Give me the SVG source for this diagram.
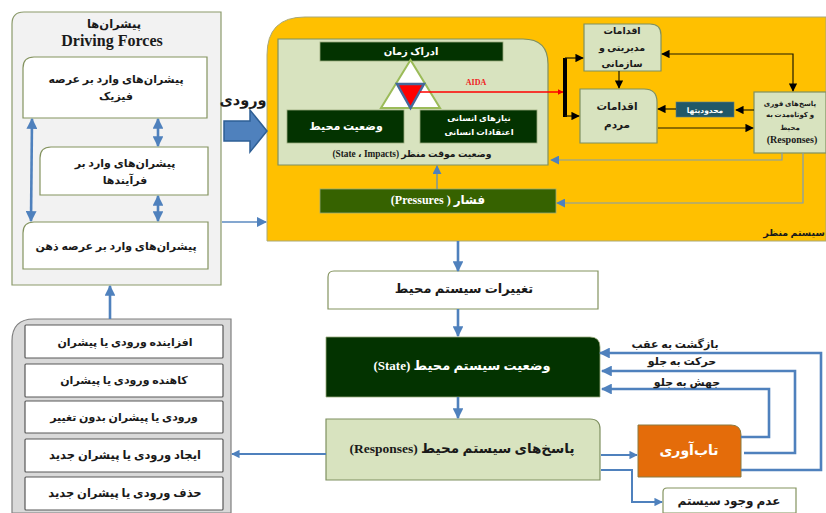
<svg xmlns="http://www.w3.org/2000/svg" width="826" height="513" viewBox="0 0 826 513">
<style>
text{font-family:"Liberation Serif","DejaVu Sans",serif;font-weight:bold;text-anchor:middle;fill:#1a1a1a;direction:rtl}
text.w{fill:#fff}
.g{fill:#d8e3bf;stroke:#7f9060;stroke-width:1.2}
.wb{fill:#fff;stroke:#84935f;stroke-width:1.2}
.wk{fill:#fff;stroke:#595959;stroke-width:1.2}
.dk{fill:#033300;stroke:#9aaa7c;stroke-width:.8}
.b2{stroke:#4f81bd;stroke-width:2.6;fill:none}
.b1{stroke:#5b8ac0;stroke-width:1.4;fill:none}
.bk{stroke:#1f1a00;stroke-width:1.2;fill:none}
</style>
<defs>
<marker id="bb" viewBox="0 0 10 10" refX="9" refY="5" markerWidth="4.2" markerHeight="4.2" orient="auto-start-reverse"><path d="M0 0L10 5L0 10z" fill="#4f81bd"/></marker>
<marker id="bs" viewBox="0 0 10 10" refX="9" refY="5" markerWidth="7.5" markerHeight="7.5" orient="auto-start-reverse"><path d="M0 0L10 5L0 10z" fill="#4f81bd"/></marker>
<marker id="kk" viewBox="0 0 10 10" refX="9" refY="5" markerWidth="7" markerHeight="7" orient="auto-start-reverse"><path d="M0 0L10 5L0 10z" fill="#000"/></marker>
<marker id="rr" viewBox="0 0 10 10" refX="9" refY="5" markerWidth="4" markerHeight="4" orient="auto"><path d="M0 0L10 5L0 10z" fill="#e00"/></marker>
</defs>

<g id="drivers">
<path d="M12 285V24Q12 12 24 12H221V285Z" fill="#f2f2f2" stroke="#8b9a6b" stroke-width="1.2"/>
<text x="114" y="28" font-size="11.500">پیشران‌ها</text>
<text x="112" y="46" font-size="16" style="direction:ltr">Driving  Forces</text>
</g>
<g id="driver-physical">
<path class="wb" d="M23 118V68Q23 57 34 57H207V118Z"/>
<text x="116" y="83" font-size="11">پیشران‌های وارد بر عرصه</text>
<text x="116" y="100" font-size="11">فیزیک</text>
</g>
<g id="driver-process">
<path class="wb" d="M40 195V158Q40 147 51 147H208V195Z"/>
<text x="125" y="167" font-size="11">پیشران‌های وارد بر</text>
<text x="125" y="184" font-size="11">فرآیندها</text>
</g>
<g id="driver-mind">
<path class="wb" d="M23 269V233Q23 222 34 222H208V269Z"/>
<text x="116" y="250" font-size="11">پیشران‌های وارد بر عرصه ذهن</text>
</g>

<g id="landscape">
<path d="M267 241V55Q267 17 305 17H826V241Z" fill="#ffc000" stroke="#a8a878" stroke-width="1"/>
<text x="794" y="236" font-size="9.500">سیستم منظر</text>
</g>
<g id="state-impacts">
<path class="g" d="M278 165V39H523Q548 39 548 64V165Z"/>
<text x="412" y="157" font-size="9.300">وضعیت موقت منظر  (State ، Impacts)</text>
</g>
<g id="time">
<rect x="320" y="42" width="183" height="19" class="dk"/>
<text x="411" y="55" class="w" font-size="10">ادراک زمان</text>
</g>
<g id="triangle">
<path d="M410.500 60L381 108H440Z" fill="#fff" stroke="#9bbb59" stroke-width="2"/>
<path d="M397 84H424L410.500 108Z" fill="#f00" stroke="#44699b" stroke-width="2.500"/>
</g>
<g id="env-state">
<rect x="287" y="110" width="117" height="33" class="dk"/>
<text x="346" y="130" class="w" font-size="11">وضعیت محیط</text>
</g>
<g id="needs">
<rect x="420" y="110" width="117" height="33" class="dk"/>
<text x="479" y="121" class="w" font-size="8.500">نیازهای انسانی</text>
<text x="479" y="135" class="w" font-size="8.500">اعتقادات انسانی</text>
</g>
<g id="pressures">
<rect x="320" y="189" width="236" height="24" fill="#366200" stroke="#9aaa7c" stroke-width=".8"/>
<text x="438" y="204" class="w" font-size="12">فشار (  Pressures)</text>
</g>
<g id="mgmt">
<path class="g" d="M584 71V24H650Q661 24 661 35V71Z"/>
<text x="622" y="34" font-size="9.500">اقدامات</text>
<text x="622" y="51" font-size="9.500">مدیریتی و</text>
<text x="622" y="67" font-size="9.500">سازمانی</text>
</g>
<g id="people">
<path class="g" d="M580 143V89H644Q657 89 657 102V143Z"/>
<text x="617" y="110" font-size="10.500">اقدامات</text>
<text x="617" y="128" font-size="10.500">مردم</text>
</g>
<g id="limits">
<rect x="676" y="102" width="58" height="15" fill="#215868" stroke="#5a7f8a" stroke-width=".6"/>
<text x="705" y="112.500" class="w" font-size="7.500">محدودیتها</text>
</g>
<g id="short-responses">
<rect x="754" y="92" width="72" height="61" class="g"/>
<text x="790" y="106" font-size="7">پاسخ‌های فوری</text>
<text x="790" y="117" font-size="7">و کوتاه‌مدت به</text>
<text x="790" y="130" font-size="7">محیط</text>
<text x="792" y="143" font-size="10" style="direction:ltr">(Responses)</text>
</g>
<g id="aida"><text x="476" y="85" font-size="8" style="fill:#f02020;direction:ltr">AIDA</text></g>
<g id="input-label">
<text x="243" y="105" font-size="14.500">ورودی</text>
</g>

<g id="env-changes">
<path class="wb" d="M328 309V277Q328 271 334 271H598V309Z"/>
<text x="464" y="293" font-size="13">تغییرات سیستم محیط</text>
</g>
<g id="env-system-state">
<path d="M326 397V337H590Q600 337 600 347V397Z" fill="#033300" stroke="#9aaa7c" stroke-width=".8"/>
<text x="462" y="370" class="w" font-size="13">وضعیت سیستم محیط (State)</text>
</g>
<g id="env-responses">
<path class="g" d="M326 480V419H590Q600 419 600 429V480Z"/>
<text x="462" y="453" font-size="13.500">پاسخ‌های سیستم محیط (Responses)</text>
</g>
<g id="resilience">
<path d="M638 477V425H731Q741 425 741 435V477Z" fill="#e46c0a" stroke="#8a7a40" stroke-width="1"/>
<text x="689" y="455" class="w" font-size="14">تاب‌آوری</text>
</g>
<g id="nonexistence">
<path class="wb" d="M663 513V492Q663 488 667 488H796V513Z"/>
<text x="729" y="505" font-size="12">عدم وجود سیستم</text>
</g>
<g id="change-types">
<path d="M12 513V341Q12 319 34 319H231V513Z" fill="#d9d9d9" stroke="#7f7f7f" stroke-width="1.200"/>
</g>
<g id="type-1"><rect class="wk" x="25" y="325" width="198" height="33" rx="1"/><text x="125" y="346" font-size="11">افزاینده ورودی یا پیشران</text></g>
<g id="type-2"><rect class="wk" x="25" y="364" width="198" height="33" rx="1"/><text x="124" y="384" font-size="11">کاهنده ورودی یا پیشران</text></g>
<g id="type-3"><rect class="wk" x="25" y="401" width="198" height="32" rx="1"/><text x="124" y="421" font-size="11">ورودی یا پیشران بدون تغییر</text></g>
<g id="type-4"><rect class="wk" x="25" y="439" width="198" height="33" rx="1"/><text x="125" y="459" font-size="11.500">ایجاد ورودی یا پیشران جدید</text></g>
<g id="type-5"><rect class="wk" x="25" y="477" width="198" height="33" rx="1"/><text x="125" y="497" font-size="11.500">حذف ورودی یا پیشران جدید</text></g>

<g id="connectors">
<path d="M224 121H250V110L267 131L250 152V141H224Z" fill="#4f81bd" stroke="#2e5f95" stroke-width="1.500"/>
<path class="b2" d="M32 119L31 221" marker-start="url(#bb)" marker-end="url(#bb)"/>
<path class="b2" d="M158 119V146" marker-start="url(#bb)" marker-end="url(#bb)"/>
<path class="b2" d="M158 196V221" marker-start="url(#bb)" marker-end="url(#bb)"/>
<path class="b2" d="M110 319V286" marker-end="url(#bb)"/>
<path class="b1" d="M222 222H266" marker-end="url(#bs)"/>
<path class="b2" d="M458 241V271" marker-end="url(#bb)"/>
<path class="b2" d="M458 309V336" marker-end="url(#bb)"/>
<path class="b2" d="M458 397V418" marker-end="url(#bb)"/>
<path class="b2" style="stroke-width:2" d="M326 454H232" marker-end="url(#bb)"/>
<path d="M437 189V166" stroke="#5b8ac0" stroke-width="1.200" fill="none" marker-end="url(#bs)"/>
<path d="M782 153V160H551" stroke="#7d9cb8" stroke-width="1.200" fill="none" marker-end="url(#bs)"/>
<path d="M803 153V203H557" stroke="#7d9cb8" stroke-width="1.200" fill="none" marker-end="url(#bs)"/>
<path d="M420 92H563" stroke="#f00" stroke-width="1.500" fill="none" marker-end="url(#rr)"/>
<path d="M565 58V117" stroke="#000" stroke-width="4" fill="none"/>
<path class="bk" d="M565 58H583" marker-end="url(#kk)"/>
<path class="bk" d="M565 116H579" marker-end="url(#kk)"/>
<path class="bk" d="M619 71V88" marker-end="url(#kk)"/>
<path class="bk" d="M662 54H793V91" marker-start="url(#kk)" marker-end="url(#kk)"/>
<path class="bk" d="M754 110H736" marker-end="url(#kk)"/>
<path class="bk" d="M676 109H658" marker-end="url(#kk)"/>
<path class="bk" d="M658 128H753" marker-end="url(#kk)"/>
<path class="b2" d="M741 437H769V389H602" marker-end="url(#bb)"/>
<path class="b2" d="M744 453H795V371H602" marker-end="url(#bb)"/>
<path class="b2" d="M741 470H821V353H600" marker-end="url(#bb)"/>
<path class="b2" style="stroke-width:2" d="M601 455H637" marker-end="url(#bb)"/>
<path class="b2" style="stroke-width:2" d="M601 470H632V502H662" marker-end="url(#bb)"/>
<text x="675" y="348" font-size="11">بازگشت به عقب</text>
<text x="682" y="365" font-size="11">حرکت به جلو</text>
<text x="687" y="386" font-size="11">جهش به جلو</text>
</g>
</svg>
